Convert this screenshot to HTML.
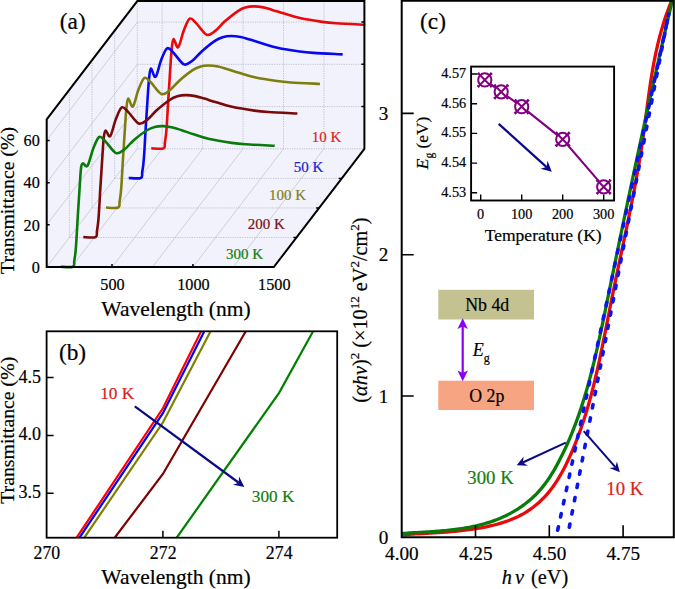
<!DOCTYPE html>
<html><head><meta charset="utf-8"><style>
html,body{margin:0;padding:0;background:#fff;}
svg{display:block;}
text{font-family:"Liberation Serif", serif;}

</style></head><body>
<svg width="675" height="589" viewBox="0 0 675 589">
<rect width="675" height="589" fill="#fff"/>
<polygon points="46.7,119.4 137.3,1.1000000000000085 364.4,1.1000000000000085 364.4,148.8 273.8,267.1 46.7,267.1" fill="#F2F2FC"/>
<path d="M162.15 1.10V148.80 M202.60 1.10V148.80 M243.05 1.10V148.80 M283.50 1.10V148.80 M323.95 1.10V148.80 M137.30 106.57H364.40 M137.30 64.33H364.40 M137.30 22.10H364.40 M69.35 237.53H296.45 M92.00 207.95H319.10 M114.65 178.38H341.75 M69.35 237.53V89.83 M92.00 207.95V60.25 M114.65 178.38V30.68 M137.30 1.10V148.80H364.40" stroke="#B4B4C4" stroke-width="0.8" stroke-dasharray="1.2 1.2" fill="none"/>
<path d="M71.55 267.10l90.60 -118.30 M112.00 267.10l90.60 -118.30 M152.45 267.10l90.60 -118.30 M192.90 267.10l90.60 -118.30 M233.35 267.10l90.60 -118.30 M46.70 224.87l90.60 -118.30 M46.70 182.63l90.60 -118.30 M46.70 140.40l90.60 -118.30 M46.70 267.10l90.60 -118.30" stroke="#C0C0CE" stroke-width="0.7" fill="none"/>
<path d="M151.30 148.40 C153.33 148.40 161.23 149.40 163.50 148.40 C165.77 147.40 164.40 145.57 164.90 142.40 C165.40 139.23 165.92 136.85 166.50 129.40 C167.08 121.95 167.78 107.65 168.40 97.70 C169.02 87.75 169.65 77.78 170.20 69.70 C170.75 61.62 171.13 54.32 171.70 49.20 C172.27 44.08 172.52 39.32 173.60 39.00 C174.68 38.68 176.50 48.73 178.20 47.30 C179.90 45.87 181.87 35.17 183.80 30.40 C185.73 25.63 187.72 19.87 189.80 18.70 C191.88 17.53 193.48 20.72 196.30 23.40 C199.12 26.08 203.53 33.55 206.70 34.80 C209.87 36.05 212.32 33.10 215.30 30.90 C218.28 28.70 220.88 24.87 224.60 21.60 C228.32 18.33 234.15 13.63 237.60 11.30 C241.05 8.97 242.60 8.42 245.30 7.60 C248.00 6.78 250.80 6.43 253.80 6.40 C256.80 6.37 260.22 6.82 263.30 7.40 C266.38 7.98 268.80 8.87 272.30 9.90 C275.80 10.93 279.68 12.23 284.30 13.60 C288.92 14.97 293.67 16.72 300.00 18.10 C306.33 19.48 316.25 21.03 322.30 21.90 C328.35 22.77 329.13 22.82 336.30 23.30 C343.47 23.78 360.47 24.55 365.30 24.80" stroke="#E80A0A" stroke-width="2.6" fill="none" stroke-linejoin="round"/>
<path d="M128.65 177.97 C130.68 177.97 138.58 178.97 140.85 177.97 C143.12 176.97 141.75 175.14 142.25 171.97 C142.75 168.81 143.27 166.42 143.85 158.97 C144.43 151.53 145.13 137.22 145.75 127.27 C146.37 117.32 147.00 107.36 147.55 99.27 C148.10 91.19 148.48 83.89 149.05 78.77 C149.62 73.66 149.87 68.89 150.95 68.57 C152.03 68.26 153.85 78.31 155.55 76.88 C157.25 75.44 159.22 64.74 161.15 59.97 C163.08 55.21 165.07 49.44 167.15 48.28 C169.23 47.11 170.83 50.29 173.65 52.97 C176.47 55.66 180.88 63.12 184.05 64.38 C187.22 65.62 189.67 62.67 192.65 60.47 C195.63 58.27 198.23 54.44 201.95 51.17 C205.67 47.91 211.50 43.21 214.95 40.88 C218.40 38.54 219.95 37.99 222.65 37.17 C225.35 36.36 228.15 36.01 231.15 35.97 C234.15 35.94 237.57 36.39 240.65 36.97 C243.73 37.56 246.15 38.44 249.65 39.47 C253.15 40.51 257.03 41.81 261.65 43.17 C266.27 44.54 271.02 46.29 277.35 47.67 C283.68 49.06 293.60 50.61 299.65 51.47 C305.70 52.34 306.48 52.39 313.65 52.88 C320.82 53.36 337.82 54.12 342.65 54.38" stroke="#0808F0" stroke-width="2.6" fill="none" stroke-linejoin="round"/>
<path d="M106.00 207.55 C108.03 207.55 115.93 208.55 118.20 207.55 C120.47 206.55 119.10 204.72 119.60 201.55 C120.10 198.38 120.62 196.00 121.20 188.55 C121.78 181.10 122.48 166.80 123.10 156.85 C123.72 146.90 124.35 136.93 124.90 128.85 C125.45 120.77 125.83 113.40 126.40 108.35 C126.97 103.30 127.22 98.87 128.30 98.55 C129.38 98.23 131.20 107.95 132.90 106.45 C134.60 104.95 136.57 94.32 138.50 89.55 C140.43 84.78 142.42 79.02 144.50 77.85 C146.58 76.68 148.18 79.87 151.00 82.55 C153.82 85.23 158.23 92.70 161.40 93.95 C164.57 95.20 167.02 92.25 170.00 90.05 C172.98 87.85 175.58 84.02 179.30 80.75 C183.02 77.48 188.85 72.78 192.30 70.45 C195.75 68.12 197.30 67.57 200.00 66.75 C202.70 65.93 205.50 65.58 208.50 65.55 C211.50 65.52 214.92 65.97 218.00 66.55 C221.08 67.13 223.50 68.02 227.00 69.05 C230.50 70.08 234.38 71.38 239.00 72.75 C243.62 74.12 248.37 75.87 254.70 77.25 C261.03 78.63 270.95 80.18 277.00 81.05 C283.05 81.92 283.83 81.97 291.00 82.45 C298.17 82.93 315.17 83.70 320.00 83.95" stroke="#7E7E0E" stroke-width="2.6" fill="none" stroke-linejoin="round"/>
<path d="M83.35 237.12 C85.38 237.12 93.28 238.12 95.55 237.12 C97.82 236.12 96.45 234.29 96.95 231.12 C97.45 227.96 97.97 225.57 98.55 218.12 C99.13 210.68 99.83 196.38 100.45 186.43 C101.07 176.48 101.70 166.51 102.25 158.43 C102.80 150.34 103.18 142.56 103.75 137.93 C104.32 133.29 104.57 130.94 105.65 130.62 C106.73 130.31 108.55 137.94 110.25 136.03 C111.95 134.11 113.92 123.89 115.85 119.12 C117.78 114.36 119.77 108.59 121.85 107.43 C123.93 106.26 125.53 109.44 128.35 112.12 C131.17 114.81 135.58 122.28 138.75 123.53 C141.92 124.78 144.37 121.83 147.35 119.62 C150.33 117.42 152.93 113.59 156.65 110.33 C160.37 107.06 166.20 102.36 169.65 100.03 C173.10 97.69 174.65 97.14 177.35 96.32 C180.05 95.51 182.85 95.16 185.85 95.12 C188.85 95.09 192.27 95.54 195.35 96.12 C198.43 96.71 200.85 97.59 204.35 98.62 C207.85 99.66 211.73 100.96 216.35 102.32 C220.97 103.69 225.72 105.44 232.05 106.82 C238.38 108.21 248.30 109.76 254.35 110.62 C260.40 111.49 261.18 111.54 268.35 112.03 C275.52 112.51 292.52 113.28 297.35 113.53" stroke="#7A0A0A" stroke-width="2.6" fill="none" stroke-linejoin="round"/>
<path d="M60.70 266.70 C62.73 266.70 70.63 267.70 72.90 266.70 C75.17 265.70 73.80 263.87 74.30 260.70 C74.80 257.53 75.32 255.15 75.90 247.70 C76.48 240.25 77.18 225.95 77.80 216.00 C78.42 206.05 79.05 196.08 79.60 188.00 C80.15 179.92 80.53 171.60 81.10 167.50 C81.67 163.40 81.92 163.72 83.00 163.40 C84.08 163.08 85.90 168.05 87.60 165.60 C89.30 163.15 91.27 153.47 93.20 148.70 C95.13 143.93 97.12 138.17 99.20 137.00 C101.28 135.83 102.88 139.02 105.70 141.70 C108.52 144.38 112.93 151.85 116.10 153.10 C119.27 154.35 121.72 151.40 124.70 149.20 C127.68 147.00 130.28 143.07 134.00 139.91 C137.72 136.76 143.55 132.43 147.00 130.26 C150.45 128.10 152.00 127.63 154.70 126.95 C157.40 126.27 160.20 126.09 163.20 126.17 C166.20 126.26 169.62 126.79 172.70 127.47 C175.78 128.15 178.20 129.10 181.70 130.24 C185.20 131.38 189.08 132.82 193.70 134.30 C198.32 135.78 203.07 137.67 209.40 139.10 C215.73 140.53 225.65 142.03 231.70 142.90 C237.75 143.77 238.53 143.82 245.70 144.30 C252.87 144.78 269.87 145.55 274.70 145.80" stroke="#0A7A0A" stroke-width="2.6" fill="none" stroke-linejoin="round"/>
<path d="M46.7,267.1 V119.4 L137.3,1.1000000000000085 H364.4 V148.8 L273.8,267.1 Z" stroke="#000" stroke-width="2" fill="none" stroke-linejoin="miter"/>
<path d="M46.70 267.10h3 M46.70 224.87h3 M46.70 182.63h3 M46.70 140.40h3 M112.00 267.10v-3 M192.90 267.10v-3 M364.40 106.57h-3 M364.40 64.33h-3 M364.40 22.10h-3 M296.45 237.53h-3 M319.10 207.95h-3 M341.75 178.38h-3" stroke="#000" stroke-width="1.5" fill="none"/>
<text x="39.80" y="272.80" font-size="16.2" text-anchor="end" fill="#000" stroke="#000" stroke-width="0.2" >0</text>
<text x="39.80" y="230.57" font-size="16.2" text-anchor="end" fill="#000" stroke="#000" stroke-width="0.2" >20</text>
<text x="39.80" y="188.33" font-size="16.2" text-anchor="end" fill="#000" stroke="#000" stroke-width="0.2" >40</text>
<text x="39.80" y="146.10" font-size="16.2" text-anchor="end" fill="#000" stroke="#000" stroke-width="0.2" >60</text>
<text x="112.50" y="289.60" font-size="16.2" text-anchor="middle" fill="#000" stroke="#000" stroke-width="0.2" >500</text>
<text x="193.40" y="289.60" font-size="16.2" text-anchor="middle" fill="#000" stroke="#000" stroke-width="0.2" >1000</text>
<text x="274.30" y="289.60" font-size="16.2" text-anchor="middle" fill="#000" stroke="#000" stroke-width="0.2" >1500</text>
<text x="176.00" y="316.00" font-size="21.5" text-anchor="middle" fill="#000" stroke="#000" stroke-width="0.2" >Wavelength (nm)</text>
<text transform="translate(14.3,200.4) rotate(-90)" stroke="#000" stroke-width="0.2" font-size="19.8" text-anchor="middle">Transmittance (%)</text>
<text x="72.80" y="29.30" font-size="23.3" text-anchor="middle" fill="#000" stroke="#000" stroke-width="0.2" >(a)</text>
<text x="341.30" y="142.10" font-size="15" text-anchor="end" fill="#E02020" stroke="#E02020" stroke-width="0.2" >10 K</text>
<text x="323.40" y="172.20" font-size="15" text-anchor="end" fill="#2020D0" stroke="#2020D0" stroke-width="0.2" >50 K</text>
<text x="306.10" y="200.10" font-size="15" text-anchor="end" fill="#808020" stroke="#808020" stroke-width="0.2" >100 K</text>
<text x="284.80" y="229.10" font-size="15" text-anchor="end" fill="#7A1010" stroke="#7A1010" stroke-width="0.2" >200 K</text>
<text x="263.10" y="259.20" font-size="15" text-anchor="end" fill="#108010" stroke="#108010" stroke-width="0.2" >300 K</text>
<defs><clipPath id="cb"><rect x="46.6" y="331.3" width="290.59999999999997" height="206.40000000000003"/></clipPath></defs>
<g clip-path="url(#cb)">
<path d="M76.60 537.70 L162.90 408.30 L201.10 331.30" stroke="#FF0000" stroke-width="2.2" fill="none"/>
<path d="M79.50 537.70 L162.90 413.20 L204.30 331.30" stroke="#0000FF" stroke-width="2.2" fill="none"/>
<path d="M84.30 537.70 L162.90 422.50 L210.60 331.30" stroke="#808000" stroke-width="2.2" fill="none"/>
<path d="M114.70 537.70 L162.90 474.00 L245.80 331.30" stroke="#800000" stroke-width="2.2" fill="none"/>
<path d="M176.70 537.70 L279.10 392.80 L313.10 331.30" stroke="#008000" stroke-width="2.2" fill="none"/>
</g>
<rect x="46.6" y="331.3" width="290.59999999999997" height="206.40000000000003" stroke="#000" stroke-width="1.8" fill="none"/>
<path d="M46.6 377.6h7 M46.6 435.4h7 M46.6 493.2h7 M162.9 537.7v-7 M278.9 537.7v-7" stroke="#000" stroke-width="1.5"/>
<text x="40.90" y="382.60" font-size="18" text-anchor="end" fill="#000" stroke="#000" stroke-width="0.2" >4.5</text>
<text x="40.90" y="440.40" font-size="18" text-anchor="end" fill="#000" stroke="#000" stroke-width="0.2" >4.0</text>
<text x="40.90" y="498.20" font-size="18" text-anchor="end" fill="#000" stroke="#000" stroke-width="0.2" >3.5</text>
<text x="46.90" y="559.20" font-size="17.8" text-anchor="middle" fill="#000" stroke="#000" stroke-width="0.2" >270</text>
<text x="163.20" y="559.20" font-size="17.8" text-anchor="middle" fill="#000" stroke="#000" stroke-width="0.2" >272</text>
<text x="279.20" y="559.20" font-size="17.8" text-anchor="middle" fill="#000" stroke="#000" stroke-width="0.2" >274</text>
<text x="176.00" y="583.50" font-size="21.5" text-anchor="middle" fill="#000" stroke="#000" stroke-width="0.2" >Wavelength (nm)</text>
<text transform="translate(14.3,430.3) rotate(-90)" stroke="#000" stroke-width="0.2" font-size="19.8" text-anchor="middle">Transmittance (%)</text>
<text x="72.50" y="360.30" font-size="23.3" text-anchor="middle" fill="#000" stroke="#000" stroke-width="0.2" >(b)</text>
<text x="100.20" y="399.40" font-size="17.3" text-anchor="start" fill="#E02020" stroke="#E02020" stroke-width="0.2" >10 K</text>
<text x="251.80" y="502.40" font-size="17.2" text-anchor="start" fill="#108010" stroke="#108010" stroke-width="0.2" >300 K</text>
<path d="M134.80 406.30L238.76 482.75" stroke="#0A0A88" stroke-width="2.2" fill="none"/>
<path d="M244.40 486.90L232.86 484.87L238.76 482.75L239.02 476.49Z" fill="#0A0A88"/>
<defs><clipPath id="cc"><rect x="401.7" y="0.8" width="272.09999999999997" height="536.5"/></clipPath></defs>
<g clip-path="url(#cc)">
<path d="M401.68 534.86 L403.65 534.72 L405.61 534.58 L407.59 534.45 L409.56 534.33 L411.53 534.21 L413.51 534.09 L415.49 533.97 L417.47 533.86 L419.45 533.75 L421.43 533.64 L423.42 533.52 L425.41 533.41 L427.39 533.30 L429.38 533.18 L431.37 533.07 L433.36 532.95 L435.35 532.82 L437.35 532.70 L439.34 532.57 L441.34 532.43 L443.33 532.29 L445.33 532.14 L447.32 531.99 L449.32 531.82 L451.32 531.65 L453.32 531.48 L455.31 531.29 L457.31 531.09 L459.31 530.89 L461.31 530.67 L463.31 530.44 L465.31 530.20 L467.31 529.95 L469.31 529.68 L471.30 529.40 L473.30 529.11 L475.30 528.80 L477.30 528.48 L479.30 528.14 L481.29 527.78 L483.29 527.41 L485.28 527.02 L487.27 526.61 L489.25 526.18 L491.24 525.73 L493.21 525.25 L495.18 524.76 L497.14 524.24 L499.09 523.69 L501.03 523.12 L502.96 522.52 L504.87 521.89 L506.78 521.24 L508.67 520.55 L510.54 519.83 L512.40 519.08 L514.25 518.30 L516.07 517.49 L517.88 516.64 L519.66 515.75 L521.43 514.82 L523.17 513.86 L524.89 512.86 L526.59 511.82 L528.26 510.74 L529.91 509.62 L531.53 508.47 L533.13 507.28 L534.70 506.05 L536.24 504.79 L537.76 503.49 L539.25 502.17 L540.71 500.81 L542.14 499.42 L543.54 498.01 L544.91 496.56 L546.25 495.09 L547.57 493.59 L548.85 492.07 L550.09 490.53 L551.31 488.96 L552.50 487.37 L553.66 485.75 L554.79 484.12 L555.90 482.47 L556.97 480.80 L558.03 479.12 L559.06 477.41 L560.07 475.70 L561.05 473.97 L562.02 472.22 L562.97 470.47 L563.89 468.70 L564.80 466.93 L565.70 465.15 L566.58 463.35 L567.44 461.56 L568.29 459.75 L569.13 457.94 L569.95 456.13 L570.77 454.31 L571.57 452.49 L572.36 450.66 L573.13 448.83 L573.90 447.00 L574.65 445.16 L575.40 443.31 L576.13 441.47 L576.85 439.62 L577.56 437.76 L578.26 435.90 L578.95 434.04 L579.63 432.17 L580.30 430.30 L580.96 428.43 L581.61 426.55 L582.26 424.67 L582.89 422.78 L583.51 420.89 L584.13 419.00 L584.73 417.11 L585.33 415.21 L585.92 413.31 L586.50 411.41 L587.07 409.50 L587.63 407.59 L588.19 405.68 L588.74 403.76 L589.28 401.84 L589.82 399.92 L590.34 398.00 L590.87 396.07 L591.38 394.14 L591.89 392.21 L592.39 390.28 L592.88 388.34 L593.37 386.40 L593.86 384.46 L594.33 382.52 L594.81 380.58 L595.27 378.63 L595.73 376.68 L596.19 374.73 L596.64 372.78 L597.09 370.83 L597.53 368.87 L597.97 366.91 L598.41 364.96 L598.84 363.00 L599.26 361.03 L599.69 359.07 L600.11 357.11 L600.52 355.14 L600.94 353.18 L601.35 351.21 L601.76 349.24 L602.16 347.27 L602.56 345.30 L602.96 343.33 L603.36 341.35 L603.76 339.38 L604.15 337.41 L604.55 335.43 L604.94 333.46 L605.33 331.48 L605.72 329.51 L606.11 327.53 L606.50 325.55 L606.89 323.58 L607.27 321.60 L607.66 319.62 L608.05 317.65 L608.44 315.67 L608.82 313.69 L609.21 311.72 L609.60 309.74 L609.99 307.76 L610.38 305.79 L610.77 303.81 L611.17 301.84 L611.56 299.86 L611.96 297.89 L612.36 295.91 L612.76 293.94 L613.16 291.97 L613.56 290.00 L613.97 288.02 L614.37 286.05 L614.78 284.08 L615.19 282.11 L615.59 280.14 L616.00 278.18 L616.41 276.21 L616.83 274.24 L617.24 272.27 L617.65 270.30 L618.06 268.34 L618.48 266.37 L618.89 264.41 L619.31 262.44 L619.72 260.48 L620.14 258.51 L620.55 256.55 L620.97 254.59 L621.38 252.62 L621.80 250.66 L622.21 248.70 L622.63 246.74 L623.04 244.77 L623.45 242.81 L623.87 240.85 L624.28 238.89 L624.69 236.93 L625.10 234.97 L625.51 233.01 L625.92 231.05 L626.33 229.10 L626.74 227.14 L627.15 225.18 L627.55 223.22 L627.96 221.26 L628.36 219.31 L628.76 217.35 L629.16 215.39 L629.56 213.44 L629.96 211.48 L630.35 209.52 L630.75 207.57 L631.14 205.61 L631.53 203.66 L631.92 201.70 L632.30 199.75 L632.68 197.79 L633.07 195.84 L633.44 193.88 L633.82 191.93 L634.20 189.98 L634.57 188.02 L634.94 186.07 L635.30 184.12 L635.67 182.16 L636.03 180.21 L636.38 178.26 L636.74 176.30 L637.09 174.35 L637.44 172.40 L637.79 170.45 L638.13 168.49 L638.47 166.54 L638.80 164.59 L639.13 162.64 L639.46 160.68 L639.79 158.73 L640.11 156.78 L640.43 154.83 L640.74 152.88 L641.05 150.92 L641.35 148.97 L641.65 147.02 L641.95 145.07 L642.24 143.12 L642.53 141.16 L642.82 139.21 L643.10 137.26 L643.37 135.31 L643.64 133.36 L643.91 131.40 L644.18 129.45 L644.44 127.50 L644.70 125.55 L644.96 123.59 L645.22 121.64 L645.47 119.69 L645.73 117.74 L645.98 115.78 L646.24 113.83 L646.49 111.88 L646.75 109.92 L647.00 107.97 L647.26 106.02 L647.52 104.06 L647.78 102.11 L648.04 100.16 L648.30 98.20 L648.57 96.25 L648.84 94.29 L649.11 92.34 L649.39 90.38 L649.67 88.43 L649.95 86.47 L650.24 84.52 L650.54 82.56 L650.84 80.61 L651.14 78.65 L651.45 76.69 L651.77 74.74 L652.10 72.78 L652.43 70.82 L652.77 68.87 L653.12 66.91 L653.47 64.95 L653.83 62.99 L654.20 61.03 L654.59 59.07 L654.98 57.12 L655.38 55.16 L655.79 53.20 L656.21 51.24 L656.64 49.27 L657.08 47.31 L657.53 45.35 L658.00 43.39 L658.47 41.43 L658.96 39.47 L659.46 37.50 L659.98 35.54 L660.51 33.58 L661.05 31.61 L661.60 29.65 L662.17 27.68 L662.76 25.72 L663.36 23.75 L663.97 21.78 L664.60 19.82 L665.25 17.85 L665.91 15.88 L666.59 13.91 L667.29 11.95 L668.00 9.98 L668.74 8.01 L669.49 6.04 L670.25 4.07 L671.04 2.09 L671.84 0.12 L672.67 -1.85 L673.51 -3.82 L674.04 -5.03" stroke="#E80A0A" stroke-width="3.3" fill="none" stroke-linejoin="round"/>
<path d="M401.71 533.57 L403.60 533.42 L405.50 533.28 L407.41 533.14 L409.33 533.01 L411.26 532.89 L413.20 532.76 L415.15 532.64 L417.11 532.53 L419.08 532.41 L421.05 532.29 L423.03 532.17 L425.02 532.05 L427.02 531.93 L429.02 531.80 L431.02 531.67 L433.03 531.54 L435.04 531.39 L437.06 531.25 L439.08 531.09 L441.10 530.93 L443.12 530.75 L445.15 530.57 L447.18 530.37 L449.20 530.17 L451.23 529.95 L453.25 529.71 L455.28 529.47 L457.30 529.20 L459.32 528.93 L461.34 528.63 L463.36 528.32 L465.37 527.99 L467.38 527.64 L469.38 527.27 L471.38 526.88 L473.37 526.47 L475.36 526.03 L477.33 525.58 L479.31 525.10 L481.27 524.60 L483.23 524.08 L485.17 523.53 L487.11 522.95 L489.04 522.35 L490.96 521.72 L492.87 521.07 L494.76 520.39 L496.65 519.67 L498.52 518.93 L500.38 518.16 L502.22 517.36 L504.06 516.53 L505.87 515.67 L507.68 514.78 L509.46 513.86 L511.23 512.91 L512.98 511.92 L514.71 510.91 L516.42 509.88 L518.11 508.81 L519.79 507.71 L521.43 506.59 L523.06 505.43 L524.66 504.25 L526.24 503.04 L527.80 501.80 L529.33 500.54 L530.83 499.24 L532.31 497.92 L533.75 496.58 L535.17 495.20 L536.56 493.80 L537.92 492.37 L539.25 490.92 L540.55 489.44 L541.82 487.93 L543.06 486.41 L544.27 484.86 L545.45 483.28 L546.61 481.69 L547.75 480.08 L548.86 478.45 L549.95 476.80 L551.02 475.14 L552.06 473.46 L553.09 471.77 L554.10 470.06 L555.09 468.35 L556.06 466.62 L557.02 464.88 L557.96 463.13 L558.89 461.38 L559.80 459.61 L560.71 457.85 L561.60 456.07 L562.48 454.29 L563.34 452.51 L564.20 450.72 L565.04 448.92 L565.88 447.12 L566.70 445.31 L567.51 443.50 L568.31 441.68 L569.10 439.86 L569.88 438.03 L570.65 436.20 L571.40 434.36 L572.15 432.52 L572.89 430.67 L573.62 428.82 L574.34 426.97 L575.05 425.11 L575.75 423.24 L576.44 421.38 L577.12 419.50 L577.79 417.63 L578.45 415.75 L579.11 413.86 L579.75 411.97 L580.39 410.08 L581.02 408.19 L581.64 406.29 L582.26 404.38 L582.86 402.48 L583.46 400.57 L584.05 398.65 L584.64 396.74 L585.21 394.82 L585.78 392.90 L586.34 390.97 L586.90 389.04 L587.45 387.11 L587.99 385.18 L588.53 383.24 L589.06 381.30 L589.58 379.36 L590.10 377.42 L590.61 375.47 L591.12 373.52 L591.62 371.57 L592.12 369.62 L592.61 367.67 L593.09 365.71 L593.57 363.75 L594.05 361.79 L594.52 359.83 L594.99 357.87 L595.45 355.90 L595.91 353.94 L596.37 351.97 L596.82 350.00 L597.27 348.03 L597.71 346.06 L598.15 344.09 L598.59 342.11 L599.02 340.14 L599.45 338.17 L599.88 336.19 L600.31 334.21 L600.73 332.24 L601.15 330.26 L601.57 328.28 L601.98 326.31 L602.40 324.33 L602.81 322.35 L603.22 320.37 L603.63 318.39 L604.04 316.42 L604.45 314.44 L604.85 312.46 L605.26 310.48 L605.66 308.51 L606.06 306.53 L606.47 304.56 L606.87 302.58 L607.27 300.61 L607.67 298.63 L608.08 296.66 L608.48 294.69 L608.88 292.72 L609.28 290.75 L609.69 288.78 L610.09 286.81 L610.49 284.85 L610.89 282.88 L611.30 280.91 L611.70 278.95 L612.10 276.98 L612.50 275.02 L612.91 273.06 L613.31 271.10 L613.71 269.13 L614.12 267.17 L614.52 265.21 L614.92 263.25 L615.33 261.29 L615.73 259.34 L616.13 257.38 L616.54 255.42 L616.94 253.47 L617.35 251.51 L617.75 249.56 L618.15 247.60 L618.56 245.65 L618.96 243.69 L619.37 241.74 L619.77 239.79 L620.18 237.84 L620.58 235.89 L620.99 233.93 L621.39 231.98 L621.80 230.03 L622.21 228.09 L622.61 226.14 L623.02 224.19 L623.43 222.24 L623.83 220.29 L624.24 218.34 L624.65 216.40 L625.05 214.45 L625.46 212.51 L625.87 210.56 L626.28 208.61 L626.69 206.67 L627.10 204.72 L627.50 202.78 L627.91 200.84 L628.32 198.89 L628.73 196.95 L629.14 195.00 L629.55 193.06 L629.96 191.12 L630.38 189.18 L630.79 187.23 L631.20 185.29 L631.61 183.35 L632.02 181.41 L632.43 179.46 L632.85 177.52 L633.26 175.58 L633.67 173.64 L634.09 171.70 L634.50 169.76 L634.92 167.82 L635.33 165.88 L635.75 163.93 L636.16 161.99 L636.58 160.05 L636.99 158.11 L637.41 156.17 L637.83 154.23 L638.25 152.29 L638.66 150.35 L639.08 148.41 L639.50 146.47 L639.92 144.53 L640.34 142.58 L640.76 140.64 L641.18 138.70 L641.60 136.76 L642.02 134.82 L642.44 132.88 L642.86 130.94 L643.29 128.99 L643.71 127.05 L644.13 125.11 L644.56 123.17 L644.98 121.23 L645.41 119.28 L645.83 117.34 L646.26 115.40 L646.68 113.45 L647.11 111.51 L647.54 109.57 L647.96 107.62 L648.39 105.68 L648.82 103.73 L649.25 101.79 L649.68 99.84 L650.11 97.90 L650.54 95.95 L650.97 94.00 L651.40 92.06 L651.84 90.11 L652.27 88.16 L652.70 86.22 L653.14 84.27 L653.57 82.32 L654.01 80.37 L654.44 78.42 L654.88 76.47 L655.32 74.52 L655.75 72.57 L656.19 70.62 L656.63 68.66 L657.07 66.71 L657.51 64.76 L657.95 62.80 L658.39 60.85 L658.83 58.89 L659.28 56.94 L659.72 54.98 L660.16 53.03 L660.61 51.07 L661.05 49.11 L661.50 47.15 L661.94 45.19 L662.39 43.23 L662.84 41.27 L663.29 39.31 L663.74 37.35 L664.19 35.39 L664.64 33.42 L665.09 31.46 L665.54 29.50 L665.99 27.53 L666.44 25.56 L666.90 23.60 L667.35 21.63 L667.81 19.66 L668.26 17.69 L668.72 15.72 L669.18 13.75 L669.64 11.78 L670.10 9.80 L670.56 7.83 L671.02 5.85 L671.48 3.88 L671.94 1.90 L672.40 -0.07 L672.87 -2.05 L673.33 -4.03 L673.57 -5.05" stroke="#0A7A0A" stroke-width="3.3" fill="none" stroke-linejoin="round"/>
<path d="M557.7 530.2 L668.8 14" stroke="#0A14F0" stroke-width="3.6" stroke-dasharray="3.4 10.1" stroke-linecap="round" fill="none"/>
<path d="M569.3 527.3 L668.6 14" stroke="#0A14F0" stroke-width="3.6" stroke-dasharray="3.4 10.1" stroke-linecap="round" fill="none"/>
</g>
<path d="M401.7 0.8 V537.3 H673.8 V0.8 Z" stroke="#000" stroke-width="2" fill="none"/>
<path d="M401.7 396.00h12 M401.7 254.70h12 M401.7 113.40h12 M475.50 537.3v-12 M549.30 537.3v-12 M623.10 537.3v-12" stroke="#000" stroke-width="1.6"/>
<text x="388.40" y="543.80" font-size="19.2" text-anchor="end" fill="#000" stroke="#000" stroke-width="0.2" >0</text>
<text x="388.40" y="402.50" font-size="19.2" text-anchor="end" fill="#000" stroke="#000" stroke-width="0.2" >1</text>
<text x="388.40" y="261.20" font-size="19.2" text-anchor="end" fill="#000" stroke="#000" stroke-width="0.2" >2</text>
<text x="388.40" y="119.90" font-size="19.2" text-anchor="end" fill="#000" stroke="#000" stroke-width="0.2" >3</text>
<text x="401.90" y="559.60" font-size="19.2" text-anchor="middle" fill="#000" stroke="#000" stroke-width="0.2" >4.00</text>
<text x="475.70" y="559.60" font-size="19.2" text-anchor="middle" fill="#000" stroke="#000" stroke-width="0.2" >4.25</text>
<text x="549.50" y="559.60" font-size="19.2" text-anchor="middle" fill="#000" stroke="#000" stroke-width="0.2" >4.50</text>
<text x="623.30" y="559.60" font-size="19.2" text-anchor="middle" fill="#000" stroke="#000" stroke-width="0.2" >4.75</text>
<text x="535" y="584" stroke="#000" stroke-width="0.2" font-size="20.3" text-anchor="middle"><tspan font-style="italic">h</tspan><tspan dx="3" font-style="italic">ν</tspan><tspan dx="7">(eV)</tspan></text>
<text transform="translate(367,310) rotate(-90)" stroke="#000" stroke-width="0.2" font-size="20.3" text-anchor="middle">(<tspan font-style="italic">αhν</tspan>)<tspan font-size="13" dy="-8">2</tspan><tspan dy="8"> (×10</tspan><tspan font-size="13" dy="-8">12</tspan><tspan dy="8"> eV</tspan><tspan font-size="13" dy="-8">2</tspan><tspan dy="8">/cm</tspan><tspan font-size="13" dy="-8">2</tspan><tspan dy="8">)</tspan></text>
<text x="433.00" y="29.30" font-size="23.3" text-anchor="middle" fill="#000" stroke="#000" stroke-width="0.2" >(c)</text>
<text x="467.30" y="483.50" font-size="18.8" text-anchor="start" fill="#108010" stroke="#108010" stroke-width="0.2" >300 K</text>
<text x="606.30" y="495.00" font-size="18.8" text-anchor="start" fill="#E02020" stroke="#E02020" stroke-width="0.2" >10 K</text>
<path d="M565.80 442.70L522.79 462.50" stroke="#0A0A88" stroke-width="2.0" fill="none"/>
<path d="M516.70 465.30L523.69 456.58L522.79 462.50L527.87 465.66Z" fill="#0A0A88"/>
<path d="M583.70 431.20L615.37 467.17" stroke="#0A0A88" stroke-width="2.0" fill="none"/>
<path d="M619.80 472.20L609.44 468.00L615.37 467.17L616.94 461.39Z" fill="#0A0A88"/>
<rect x="438.3" y="289.8" width="95.7" height="29.7" fill="#C4C290"/>
<rect x="438.3" y="380.7" width="95.7" height="29.3" fill="#F7A483"/>
<text x="487.20" y="310.80" font-size="17.8" text-anchor="middle" fill="#000" stroke="#000" stroke-width="0.2" >Nb 4d</text>
<text x="486.80" y="402.30" font-size="17.8" text-anchor="middle" fill="#000" stroke="#000" stroke-width="0.2" >O 2p</text>
<path d="M462.7 326 V373.5" stroke="#8A00F0" stroke-width="2.2"/>
<path d="M462.7 318.3 L457.5 329 L462.7 326.5 L467.9 329 Z" fill="#8A00F0"/>
<path d="M462.7 381.2 L457.5 370.5 L462.7 373 L467.9 370.5 Z" fill="#8A00F0"/>
<text x="472.7" y="355.6" stroke="#000" stroke-width="0.2" font-size="18"><tspan font-style="italic">E</tspan><tspan font-size="12" dy="6">g</tspan></text>
<rect x="471.1" y="66.6" width="143.0" height="133.9" fill="#fff" stroke="#000" stroke-width="1.9"/>
<path d="M471.1 192.80h6 M471.1 163.10h6 M471.1 133.40h6 M471.1 103.70h6 M471.1 74.00h6 M480.70 200.5v-6 M521.70 200.5v-6 M562.70 200.5v-6 M603.70 200.5v-6" stroke="#000" stroke-width="1.4"/>
<text x="466.20" y="196.80" font-size="14.3" text-anchor="end" fill="#000" stroke="#000" stroke-width="0.2" >4.53</text>
<text x="466.20" y="167.10" font-size="14.3" text-anchor="end" fill="#000" stroke="#000" stroke-width="0.2" >4.54</text>
<text x="466.20" y="137.40" font-size="14.3" text-anchor="end" fill="#000" stroke="#000" stroke-width="0.2" >4.55</text>
<text x="466.20" y="107.70" font-size="14.3" text-anchor="end" fill="#000" stroke="#000" stroke-width="0.2" >4.56</text>
<text x="466.20" y="78.00" font-size="14.3" text-anchor="end" fill="#000" stroke="#000" stroke-width="0.2" >4.57</text>
<text x="480.70" y="218.80" font-size="14.3" text-anchor="middle" fill="#000" stroke="#000" stroke-width="0.2" >0</text>
<text x="521.70" y="218.80" font-size="14.3" text-anchor="middle" fill="#000" stroke="#000" stroke-width="0.2" >100</text>
<text x="562.70" y="218.80" font-size="14.3" text-anchor="middle" fill="#000" stroke="#000" stroke-width="0.2" >200</text>
<text x="603.70" y="218.80" font-size="14.3" text-anchor="middle" fill="#000" stroke="#000" stroke-width="0.2" >300</text>
<text x="543.20" y="241.30" font-size="17.5" text-anchor="middle" fill="#000" stroke="#000" stroke-width="0.2" >Temperature (K)</text>
<text transform="translate(428.2,142.9) rotate(-90)" stroke="#000" stroke-width="0.2" font-size="17.4" text-anchor="middle"><tspan font-style="italic">E</tspan><tspan font-size="11.5" dy="5">g</tspan><tspan dy="-5"> (eV)</tspan></text>
<path d="M484.80 79.94 L501.20 91.82 L521.70 106.67 L562.70 139.34 L603.70 186.86" stroke="#800080" stroke-width="2.1" fill="none"/>
<circle cx="484.80" cy="79.94" r="6.6" fill="#fff" stroke="#800080" stroke-width="2"/>
<path d="M478.40 73.54L491.20 86.34M491.20 73.54L478.40 86.34" stroke="#800080" stroke-width="2"/>
<path d="M492.19 85.35L490.21 87.33M490.21 72.55L492.19 74.53M479.39 87.33L477.41 85.35M477.41 74.53L479.39 72.55" stroke="#800080" stroke-width="1.8"/>
<circle cx="501.20" cy="91.82" r="6.6" fill="#fff" stroke="#800080" stroke-width="2"/>
<path d="M494.80 85.42L507.60 98.22M507.60 85.42L494.80 98.22" stroke="#800080" stroke-width="2"/>
<path d="M508.59 97.23L506.61 99.21M506.61 84.43L508.59 86.41M495.79 99.21L493.81 97.23M493.81 86.41L495.79 84.43" stroke="#800080" stroke-width="1.8"/>
<circle cx="521.70" cy="106.67" r="6.6" fill="#fff" stroke="#800080" stroke-width="2"/>
<path d="M515.30 100.27L528.10 113.07M528.10 100.27L515.30 113.07" stroke="#800080" stroke-width="2"/>
<path d="M529.09 112.08L527.11 114.06M527.11 99.28L529.09 101.26M516.29 114.06L514.31 112.08M514.31 101.26L516.29 99.28" stroke="#800080" stroke-width="1.8"/>
<circle cx="562.70" cy="139.34" r="6.6" fill="#fff" stroke="#800080" stroke-width="2"/>
<path d="M556.30 132.94L569.10 145.74M569.10 132.94L556.30 145.74" stroke="#800080" stroke-width="2"/>
<path d="M570.09 144.75L568.11 146.73M568.11 131.95L570.09 133.93M557.29 146.73L555.31 144.75M555.31 133.93L557.29 131.95" stroke="#800080" stroke-width="1.8"/>
<circle cx="603.70" cy="186.86" r="6.6" fill="#fff" stroke="#800080" stroke-width="2"/>
<path d="M597.30 180.46L610.10 193.26M610.10 180.46L597.30 193.26" stroke="#800080" stroke-width="2"/>
<path d="M611.09 192.27L609.11 194.25M609.11 179.47L611.09 181.45M598.29 194.25L596.31 192.27M596.31 181.45L598.29 179.47" stroke="#800080" stroke-width="1.8"/>
<path d="M498.70 123.90L546.60 167.11" stroke="#0A0A88" stroke-width="2.2" fill="none"/>
<path d="M551.80 171.80L540.45 168.70L546.60 167.11L547.55 160.83Z" fill="#0A0A88"/>
</svg></body></html>
